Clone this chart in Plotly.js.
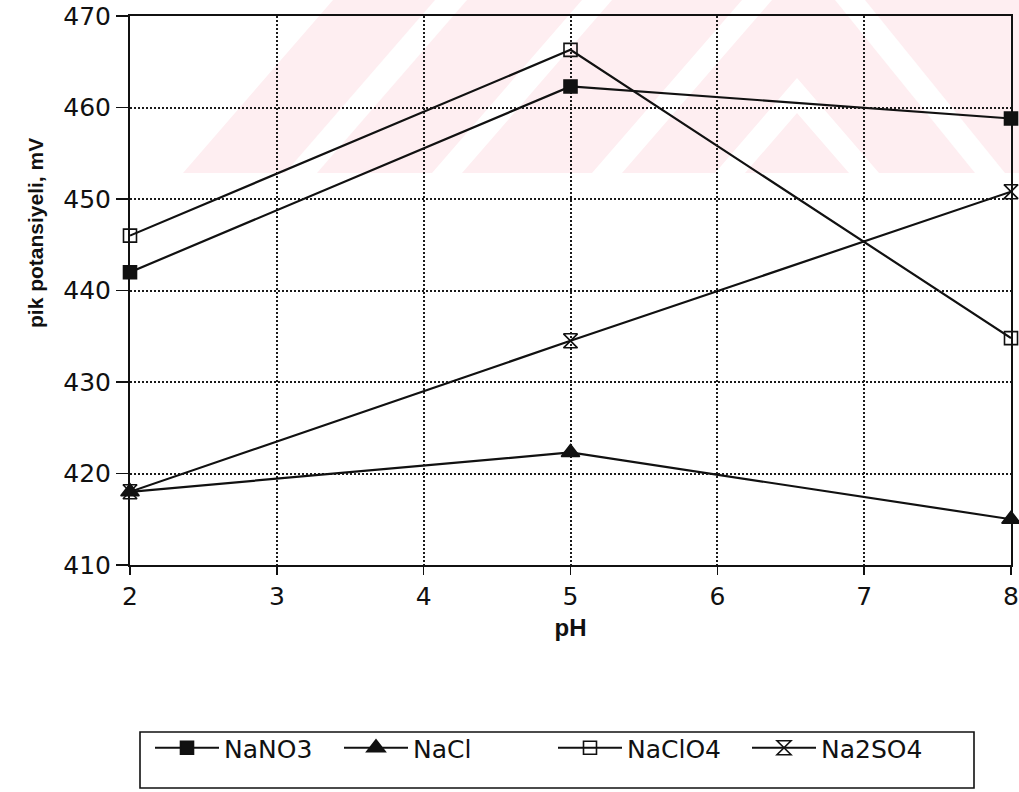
<!DOCTYPE html>
<html>
<head>
<meta charset="utf-8">
<script src="https://cdn.plot.ly/plotly-3.0.1.min.js"></script>
<style>
  html, body { margin: 0; padding: 0; background: #ffffff; }
  #chart { width: 1019px; height: 792px; }
</style>
</head>
<body>
<div id="chart"></div>
<script>
// Peak potential (mV) against pH for four supporting electrolytes
const pH = [2, 5, 8];
const naNO3 = [442, 462.3, 458.8];
const naCl = [418, 422.3, 415];
const naClO4 = [446, 466.3, 434.8];
const na2SO4 = [418, 434.5, 450.8];
const seriesNames = ['NaNO3', 'NaCl', 'NaClO4', 'Na2SO4'];
const xTickVals = [2, 3, 4, 5, 6, 7, 8];
const yTickVals = [410, 420, 430, 440, 450, 460, 470];

// page geometry in pixels
const W = 1019, H = 792;
const L = 130, R = 1011, T = 16, B = 565;
const px = x => (x - L) / (R - L);
const py = y => (B - y) / (B - T);
const path = pts => 'M' + pts.map(p => px(p[0]) + ',' + py(p[1])).join('L') + 'Z';

const ink = '#111111';
const tickFont = { family: 'DejaVu Sans, Liberation Sans, Arial', size: 25, color: ink };
const legendFont = { family: 'DejaVu Sans, Liberation Sans, Arial', size: 25, color: ink };

const styles = [
  { symbol: 'square', size: 13 },
  { symbol: 'triangle-up', size: 16 },
  { symbol: 'square-open', size: 13 },
  { symbol: 'hourglass-open', size: 14 }
];
const values = [naNO3, naCl, naClO4, na2SO4];
const legendIds = ['legend', 'legend2', 'legend3', 'legend4'];

const traces = values.map((v, i) => ({
  x: pH,
  y: v,
  name: seriesNames[i],
  type: 'scatter',
  mode: 'lines+markers',
  legend: legendIds[i],
  cliponaxis: false,
  line: { color: ink, width: 2.2 },
  marker: {
    symbol: styles[i].symbol,
    size: styles[i].size,
    color: ink,
    line: { color: ink, width: 1.6 }
  }
}));

// faint pink background mark behind the upper part of the grid
const pink = '#feeef1';
const band = (b, w) => path([[b, 173], [b + w, 173], [b + w + 150, 0], [b + 150, 0]]);
const shapes = [
  { type: 'path', xref: 'paper', yref: 'paper', layer: 'below', line: { width: 0 }, fillcolor: pink,
    path: path([[183, 173], [333, 0], [1019, 0], [1019, 173]]) },
  { type: 'path', xref: 'paper', yref: 'paper', layer: 'below', line: { width: 0 }, fillcolor: '#ffffff', path: band(285, 32) },
  { type: 'path', xref: 'paper', yref: 'paper', layer: 'below', line: { width: 0 }, fillcolor: '#ffffff', path: band(432, 30) },
  { type: 'path', xref: 'paper', yref: 'paper', layer: 'below', line: { width: 0 }, fillcolor: '#ffffff', path: band(592, 30) },
  { type: 'path', xref: 'paper', yref: 'paper', layer: 'below', line: { width: 0 }, fillcolor: '#ffffff',
    path: path([[715, 173], [797, 78], [879, 173], [849, 173], [797, 113], [745, 173]]) },
  { type: 'path', xref: 'paper', yref: 'paper', layer: 'below', line: { width: 0 }, fillcolor: '#ffffff',
    path: path([[835, 0], [865, 0], [1005, 173], [975, 173]]) },
  // legend frame
  { type: 'rect', xref: 'paper', yref: 'paper', layer: 'above',
    x0: px(140), x1: px(974), y0: py(732), y1: py(788),
    line: { color: ink, width: 1.6 }, fillcolor: 'rgba(0,0,0,0)' }
];

const legendStarts = [150, 339, 553, 747];
const legendBase = {
  orientation: 'h', xanchor: 'left', yanchor: 'middle', y: py(748),
  font: legendFont, bgcolor: 'rgba(0,0,0,0)', borderwidth: 0, itemwidth: 64
};
const gridStyle = { showgrid: true, gridcolor: '#1a1a1a', gridwidth: 2, griddash: '2px,2px' };
const layout = {
  width: W, height: H,
  margin: { l: L, r: W - R, t: T, b: H - B, autoexpand: false },
  paper_bgcolor: '#ffffff',
  plot_bgcolor: 'rgba(0,0,0,0)',
  showlegend: true,
  xaxis: Object.assign({
    range: [2, 8],
    tickvals: xTickVals,
    ticktext: xTickVals.map(String),
    ticks: 'outside', ticklen: 8, tickwidth: 1.6, tickcolor: ink,
    tickfont: tickFont,
    showline: true, linecolor: ink, linewidth: 2, mirror: true,
    zeroline: false,
    title: { text: 'pH', font: { family: 'Liberation Sans, Arial', size: 24, weight: 700, color: ink }, standoff: 9 }
  }, gridStyle),
  yaxis: Object.assign({
    range: [410, 470],
    tickvals: yTickVals,
    ticktext: yTickVals.map(String),
    ticks: 'outside', ticklen: 12, tickwidth: 1.6, tickcolor: ink,
    tickfont: tickFont,
    showline: true, linecolor: ink, linewidth: 2, mirror: true,
    zeroline: false
  }, gridStyle),
  annotations: [
    { text: 'pik potansiyeli, mV', xref: 'paper', yref: 'paper', x: px(35), y: py(233),
      textangle: -90, showarrow: false, xanchor: 'center', yanchor: 'middle',
      font: { family: 'Liberation Sans, Arial', size: 21, weight: 700, color: ink } }
  ],
  shapes: shapes
};
legendIds.forEach((id, i) => {
  layout[id] = Object.assign({}, legendBase, { x: px(legendStarts[i]) });
});

Plotly.newPlot('chart', traces, layout, { displayModeBar: false, staticPlot: true });
</script>
</body>
</html>
